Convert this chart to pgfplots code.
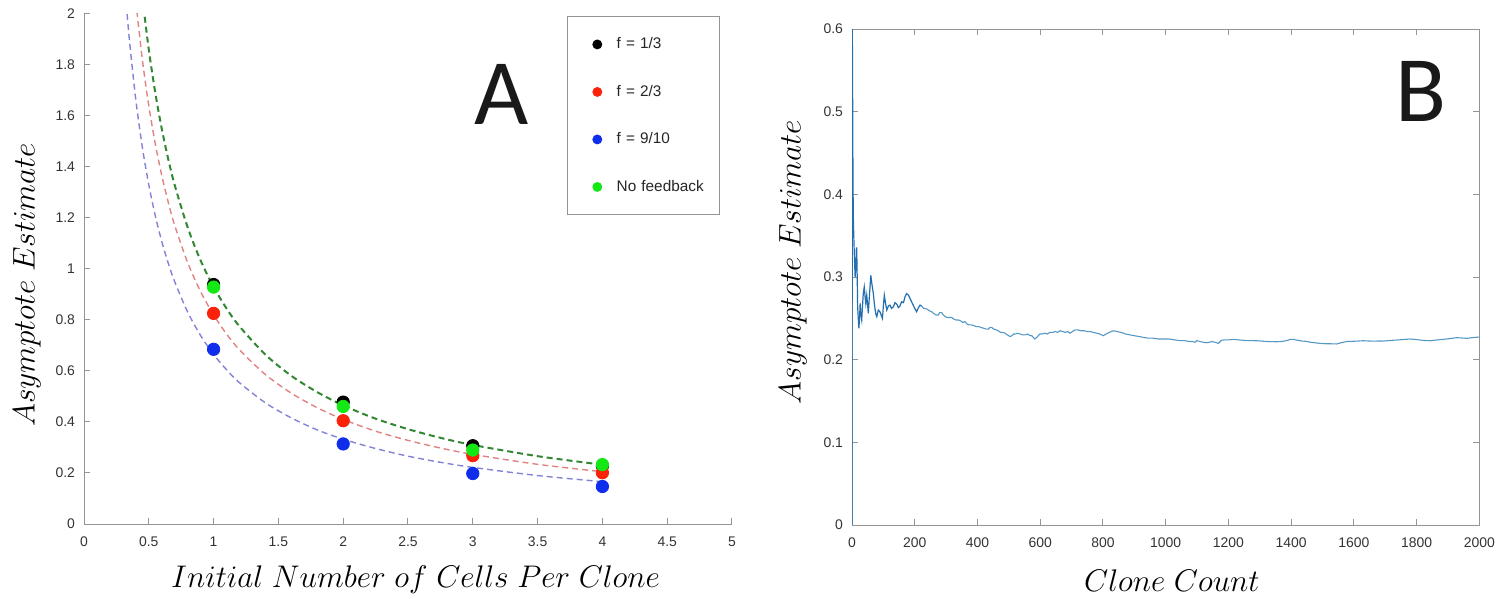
\documentclass[border=0pt]{standalone}
\usepackage{fix-cm}
\usepackage{fontspec}
\setmainfont{Liberation Sans}
\newfontfamily\carlito{Carlito}
\usepackage{pgfplots}
\pgfplotsset{compat=1.18}
\definecolor{mgreen}{RGB}{20,232,20}
\definecolor{mred}{RGB}{250,35,10}
\definecolor{mblue}{RGB}{15,45,235}
\definecolor{cgreen}{RGB}{50,135,50}
\definecolor{cred}{RGB}{225,130,130}
\definecolor{cblue}{RGB}{130,130,215}
\definecolor{dblue}{RGB}{35,110,175}
\definecolor{lblue}{RGB}{85,152,198}
\pgfplotsset{
  common/.style={
    scale only axis, anchor=south west,
    tick style={black!42, line width=0.5bp},
    major tick length=3.2bp, tick align=inside,
    tick label style={font=\fontsize{7}{8}\selectfont, text=black!80},
    /pgf/number format/assume math mode=true,
    /pgf/number format/1000 sep={},
    xticklabel style={yshift=-2.7bp},
    yticklabel style={xshift=-1bp},
    label style={font=\fontsize{15.7}{19}\selectfont},
  },
  noarrows/.style={
    axis line style={-, black!42, line width=0.5bp},
    x axis line style={-}, y axis line style={-},
    every outer x axis line/.append style={-},
    every outer y axis line/.append style={-},
    every inner x axis line/.append style={-},
    every inner y axis line/.append style={-},
  },
  mk/.style={only marks, mark=*, mark size=3.1bp, color=#1,
    legend image code/.code={\path[draw=none, fill=none] (0bp,-3bp) rectangle (22bp,3bp);
      \draw[##1, mark size=2.2bp] plot coordinates {(14.7bp,0bp)};}},
  fit/.style={color=#1, line width=0.7bp, dash pattern=on 3bp off 2bp, smooth, forget plot, mark=none},
}
\begin{document}
\begin{tikzpicture}
\useasboundingbox (0,0) rectangle (753.5bp,299.5bp);
% ---------------- Panel A ----------------
\begin{axis}[common,
  at={(42bp,37.5bp)}, width=324bp, height=255bp,
  axis lines=left, noarrows, tick align=inside,
  xmin=0, xmax=5, ymin=0, ymax=2,
  xtick={0,0.5,1,1.5,2,2.5,3,3.5,4,4.5,5},
  ytick={0,0.2,0.4,0.6,0.8,1,1.2,1.4,1.6,1.8,2},
  clip=true,
  xlabel={$Initial\ Number\ of\ Cells\ Per\ Clone$},
  ylabel={$Asymptote\ Estimate$},
  xlabel style={at={(axis description cs:0.512,-0.110)}, anchor=center},
  ylabel style={at={(axis description cs:-0.088,0.469)}, anchor=center},
  legend style={at={(axis description cs:0.746,0.996)}, anchor=north west,
    draw=black!42, line width=0.5bp, fill=white,
    inner xsep=0pt, inner ysep=8.2bp, row sep=12.25bp,
    font=\fontsize{7.7}{9}\selectfont, text=black!85,
    nodes={text width=49.2bp, inner xsep=2.4bp, inner ysep=2bp, text height=6bp, text depth=1.5bp, align=left}},
  legend cell align=left,
]
\addplot[fit=cblue] coordinates {(0.32,2.078)(0.35,1.9)(0.4,1.663)(0.45,1.478)(0.5,1.33)(0.55,1.209)(0.6,1.108)(0.65,1.023)(0.7,0.95)(0.8,0.831)(0.9,0.739)(1.0,0.665)(1.1,0.605)(1.2,0.554)(1.4,0.475)(1.6,0.416)(1.8,0.369)(2.0,0.3325)(2.25,0.296)(2.5,0.266)(2.75,0.242)(3.0,0.222)(3.5,0.19)(4.0,0.166)};
\addplot[fit=cred] coordinates {(0.40,2.05)(0.45,1.822)(0.5,1.64)(0.55,1.491)(0.6,1.367)(0.65,1.262)(0.7,1.171)(0.8,1.025)(0.9,0.911)(1.0,0.82)(1.1,0.745)(1.2,0.683)(1.4,0.586)(1.6,0.513)(1.8,0.456)(2.0,0.41)(2.25,0.364)(2.5,0.328)(2.75,0.298)(3.0,0.273)(3.5,0.234)(4.0,0.205)};
\addplot[fit=cgreen, line width=1bp] coordinates {(0.45,2.067)(0.5,1.86)(0.55,1.691)(0.6,1.55)(0.65,1.431)(0.7,1.329)(0.8,1.163)(0.9,1.033)(1.0,0.93)(1.1,0.845)(1.2,0.775)(1.4,0.664)(1.6,0.581)(1.8,0.517)(2.0,0.465)(2.25,0.413)(2.5,0.372)(2.75,0.338)(3.0,0.31)(3.5,0.266)(4.0,0.2325)};
\addplot[mk=black] coordinates {(1,0.939)(2,0.478)(3,0.307)(4,0.228)};
\addlegendentry{f = 1/3}
\addplot[mk=mred] coordinates {(1,0.826)(2,0.405)(3,0.268)(4,0.201)};
\addlegendentry{f = 2/3}
\addplot[mk=mblue] coordinates {(1,0.685)(2,0.314)(3,0.198)(4,0.147)};
\addlegendentry{f = 9/10}
\addplot[mk=mgreen] coordinates {(1,0.929)(2,0.461)(3,0.290)(4,0.233)};
\addlegendentry{No feedback}
\node[font=\carlito\fontsize{47}{50}\selectfont, text=black!90] at (axis description cs:0.645,0.843) {A};
\end{axis}
% ---------------- Panel B ----------------
\begin{axis}[common, noarrows,
  at={(426bp,37bp)}, width=313.65bp, height=248bp,
  xmin=0, xmax=2000, ymin=0, ymax=0.6,
  xtick={0,200,400,600,800,1000,1200,1400,1600,1800,2000},
  ytick={0,0.1,0.2,0.3,0.4,0.5,0.6},
  xlabel={$Clone\ Count$},
  ylabel={$Asymptote\ Estimate$},
  xlabel style={at={(axis description cs:0.510,-0.113)}, anchor=center},
  ylabel style={at={(axis description cs:-0.094,0.530)}, anchor=center},
]
\addplot[color=lblue, line width=0.55bp, mark=none] coordinates {
(222,0.265)(228,0.262)(233,0.262)(240,0.261)(247,0.259)(254,0.258)(260,0.256)(268,0.254)(275,0.254)(280,0.257)(286,0.257)(291,0.254)(297,0.252)(305,0.251)(312,0.251)(318,0.251)(325,0.249)(332,0.248)(339,0.248)(346,0.247)(353,0.245)(360,0.246)(367,0.243)(375,0.242)(382,0.242)(390,0.241)(396,0.240)(403,0.240)(412,0.239)(420,0.238)(428,0.237)(435,0.237)(440,0.239)(445,0.239)(452,0.237)(460,0.236)(466,0.235)(474,0.233)(481,0.233)(488,0.232)(495,0.230)(504,0.228)(510,0.229)(515,0.231)(520,0.231)(528,0.232)(536,0.231)(544,0.230)(552,0.230)(560,0.231)(568,0.229)(573,0.229)(578,0.227)(583,0.225)(589,0.227)(599,0.231)(605,0.231)(615,0.232)(622,0.231)(631,0.233)(640,0.233)(648,0.234)(655,0.233)(663,0.235)(672,0.234)(680,0.233)(688,0.234)(695,0.232)(703,0.234)(711,0.236)(720,0.236)(730,0.235)(740,0.235)(750,0.234)(759,0.234)(770,0.233)(780,0.232)(790,0.231)(801,0.229)(810,0.231)(820,0.233)(833,0.235)(845,0.234)(858,0.233)(872,0.231)(886,0.230)(900,0.229)(915,0.228)(929,0.227)(945,0.226)(960,0.226)(976,0.225)(993,0.225)(1010,0.225)(1028,0.224)(1046,0.223)(1060,0.223)(1075,0.222)(1085,0.222)(1094,0.221)(1099,0.223)(1110,0.222)(1120,0.221)(1131,0.2205)(1140,0.221)(1147,0.222)(1158,0.221)(1168,0.2197)(1178,0.2235)(1190,0.224)(1203,0.224)(1216,0.2246)(1230,0.224)(1245,0.2235)(1260,0.223)(1275,0.223)(1290,0.2229)(1305,0.2225)(1320,0.222)(1338,0.2218)(1354,0.2217)(1370,0.222)(1385,0.223)(1398,0.2245)(1407,0.2246)(1420,0.2235)(1435,0.2225)(1449,0.2221)(1462,0.221)(1475,0.2205)(1492,0.2197)(1510,0.2193)(1528,0.2192)(1545,0.219)(1560,0.2205)(1577,0.2219)(1595,0.2222)(1612,0.2225)(1630,0.2229)(1647,0.2226)(1663,0.2224)(1680,0.2226)(1694,0.2225)(1710,0.223)(1725,0.2235)(1737,0.2237)(1750,0.2242)(1765,0.2246)(1779,0.225)(1795,0.2245)(1810,0.2238)(1825,0.2232)(1843,0.2229)(1860,0.2236)(1877,0.2243)(1896,0.225)(1912,0.2258)(1928,0.2266)(1945,0.2262)(1960,0.2258)(1975,0.2265)(1988,0.227)(2000,0.2274)};
\addplot[color=dblue, line width=0.6bp, mark=none] coordinates {
(0,0)(1,0.6)(2,0.52)(3,0.43)(4,0.377)(5,0.36)(6,0.345)(8,0.32)(10,0.300)(12,0.31)(14,0.335)(15,0.335)(17,0.29)(18,0.264)(20,0.25)(22,0.238)(24,0.25)(26,0.268)(28,0.255)(31,0.248)(33,0.262)(36,0.280)(39,0.288)(42,0.275)(44,0.268)(47,0.278)(50,0.265)(52,0.256)(56,0.28)(60,0.302)(64,0.29)(68,0.280)(72,0.265)(76,0.255)(79,0.252)(84,0.26)(89,0.258)(93,0.254)(97,0.250)(100,0.265)(103,0.278)(107,0.268)(111,0.260)(116,0.265)(121,0.266)(126,0.262)(132,0.264)(137,0.269)(143,0.267)(148,0.263)(153,0.265)(158,0.270)(164,0.269)(169,0.276)(174,0.280)(180,0.278)(185,0.274)(190,0.270)(195,0.266)(200,0.262)(206,0.258)(212,0.263)(217,0.266)(222,0.265)};
\node[font=\carlito\fontsize{47}{50}\selectfont, text=black!90] at (axis description cs:0.907,0.875) {B};
\end{axis}
\end{tikzpicture}
\end{document}
